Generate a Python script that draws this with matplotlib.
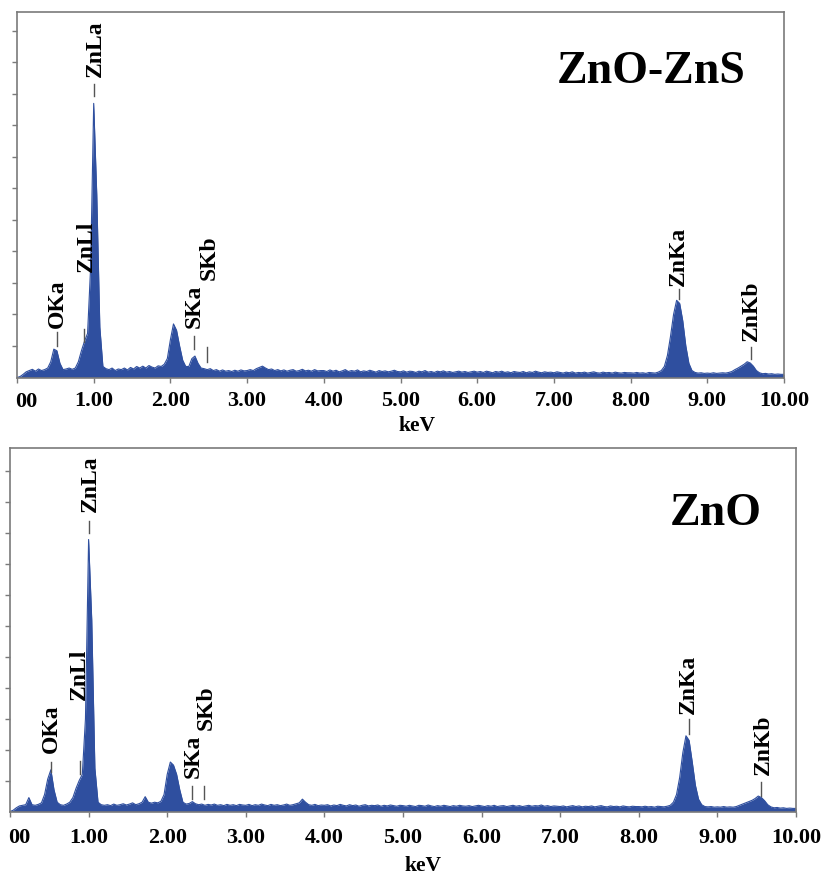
import numpy as np
import matplotlib
matplotlib.use("Agg")
import matplotlib.pyplot as plt

# ---------------- data ----------------
energy_step_kev = 0.04
energy_kev = np.round(np.arange(251) * energy_step_kev, 2)   # 0.00 ... 10.00 keV channels

# counts (arbitrary units, 1 unit = one y-tick) for ZnO-ZnS, one row per keV
zno_zns_counts = (
    [0.0, 0.03, 0.1, 0.18, 0.22, 0.26, 0.2, 0.27, 0.22, 0.25, 0.3, 0.5, 0.9, 0.85, 0.45, 0.25, 0.27, 0.3, 0.26, 0.3, 0.5, 0.85, 1.15, 1.4, 3.5]
    + [8.7, 5.8, 1.6, 0.35, 0.28, 0.25, 0.3, 0.22, 0.27, 0.25, 0.3, 0.24, 0.32, 0.27, 0.35, 0.3, 0.36, 0.3, 0.38, 0.33, 0.3, 0.37, 0.35, 0.42, 0.6]
    + [1.2, 1.7, 1.5, 1.0, 0.55, 0.35, 0.35, 0.6, 0.68, 0.45, 0.3, 0.28, 0.25, 0.28, 0.22, 0.25, 0.2, 0.24, 0.2, 0.22, 0.19, 0.23, 0.2, 0.24, 0.21]
    + [0.22, 0.25, 0.22, 0.28, 0.32, 0.36, 0.3, 0.25, 0.27, 0.22, 0.25, 0.21, 0.24, 0.2, 0.23, 0.25, 0.2, 0.22, 0.26, 0.21, 0.23, 0.2, 0.25, 0.21, 0.22]
    + [0.22, 0.19, 0.24, 0.2, 0.23, 0.18, 0.21, 0.25, 0.19, 0.22, 0.2, 0.24, 0.18, 0.21, 0.19, 0.23, 0.2, 0.17, 0.22, 0.19, 0.21, 0.18, 0.2, 0.23, 0.19]
    + [0.18, 0.21, 0.17, 0.2, 0.19, 0.16, 0.2, 0.18, 0.22, 0.17, 0.19, 0.16, 0.2, 0.18, 0.21, 0.17, 0.19, 0.16, 0.18, 0.2, 0.17, 0.19, 0.16, 0.18, 0.2]
    + [0.17, 0.19, 0.16, 0.2, 0.18, 0.15, 0.19, 0.17, 0.2, 0.16, 0.18, 0.15, 0.19, 0.17, 0.16, 0.19, 0.15, 0.18, 0.16, 0.2, 0.17, 0.15, 0.18, 0.16, 0.17]
    + [0.15, 0.18, 0.16, 0.14, 0.17, 0.15, 0.18, 0.14, 0.16, 0.15, 0.17, 0.14, 0.16, 0.18, 0.15, 0.14, 0.17, 0.15, 0.16, 0.14, 0.17, 0.15, 0.14, 0.16, 0.15]
    + [0.15, 0.14, 0.16, 0.14, 0.15, 0.13, 0.16, 0.15, 0.14, 0.17, 0.22, 0.35, 0.7, 1.3, 2.0, 2.45, 2.35, 1.8, 1.0, 0.45, 0.22, 0.16, 0.14, 0.15, 0.13]
    + [0.14, 0.13, 0.15, 0.13, 0.14, 0.15, 0.14, 0.16, 0.19, 0.25, 0.3, 0.36, 0.42, 0.5, 0.46, 0.36, 0.22, 0.15, 0.12, 0.13, 0.11, 0.12, 0.1, 0.11, 0.1]
    + [0.1]
)

zno_counts = (
    [0.0, 0.04, 0.12, 0.18, 0.2, 0.22, 0.45, 0.22, 0.2, 0.23, 0.28, 0.55, 1.05, 1.35, 0.7, 0.3, 0.22, 0.2, 0.24, 0.3, 0.45, 0.75, 1.0, 1.2, 3.0]
    + [8.8, 6.2, 1.4, 0.3, 0.22, 0.2, 0.22, 0.19, 0.24, 0.2, 0.22, 0.25, 0.21, 0.24, 0.28, 0.22, 0.25, 0.3, 0.48, 0.3, 0.27, 0.3, 0.28, 0.33, 0.55]
    + [1.2, 1.6, 1.5, 1.2, 0.7, 0.3, 0.24, 0.26, 0.32, 0.25, 0.22, 0.24, 0.2, 0.23, 0.21, 0.24, 0.2, 0.22, 0.19, 0.23, 0.2, 0.22, 0.19, 0.23, 0.21]
    + [0.2, 0.23, 0.19, 0.22, 0.2, 0.24, 0.21, 0.19, 0.23, 0.2, 0.22, 0.19, 0.21, 0.24, 0.2, 0.22, 0.25, 0.28, 0.4, 0.3, 0.22, 0.2, 0.23, 0.19, 0.21]
    + [0.2, 0.22, 0.18, 0.21, 0.19, 0.23, 0.2, 0.18, 0.22, 0.19, 0.21, 0.17, 0.2, 0.22, 0.18, 0.2, 0.19, 0.21, 0.17, 0.2, 0.18, 0.21, 0.19, 0.17, 0.2]
    + [0.19, 0.17, 0.2, 0.18, 0.16, 0.2, 0.19, 0.17, 0.21, 0.18, 0.16, 0.19, 0.17, 0.2, 0.18, 0.16, 0.19, 0.17, 0.2, 0.18, 0.17, 0.19, 0.16, 0.18, 0.2]
    + [0.18, 0.16, 0.19, 0.17, 0.2, 0.16, 0.18, 0.19, 0.16, 0.18, 0.2, 0.17, 0.19, 0.16, 0.18, 0.2, 0.17, 0.19, 0.18, 0.21, 0.17, 0.19, 0.16, 0.18, 0.17]
    + [0.16, 0.18, 0.15, 0.17, 0.19, 0.16, 0.18, 0.15, 0.17, 0.16, 0.18, 0.15, 0.17, 0.19, 0.16, 0.15, 0.18, 0.16, 0.17, 0.15, 0.18, 0.16, 0.15, 0.17, 0.16]
    + [0.16, 0.15, 0.17, 0.15, 0.16, 0.14, 0.17, 0.16, 0.15, 0.17, 0.2, 0.3, 0.55, 1.1, 1.9, 2.45, 2.3, 1.6, 0.85, 0.4, 0.22, 0.16, 0.15, 0.16, 0.14]
    + [0.15, 0.14, 0.16, 0.14, 0.15, 0.14, 0.16, 0.2, 0.24, 0.28, 0.32, 0.36, 0.42, 0.5, 0.45, 0.35, 0.22, 0.15, 0.12, 0.13, 0.11, 0.12, 0.1, 0.11, 0.1]
    + [0.1]
)

x_ticks = [0, 1, 2, 3, 4, 5, 6, 7, 8, 9, 10]
x_tick_labels = ["00", "1.00", "2.00", "3.00", "4.00", "5.00", "6.00", "7.00", "8.00", "9.00", "10.00"]
y_ticks = [1, 2, 3, 4, 5, 6, 7, 8, 9, 10, 11]

peak_names = ["OKa", "ZnLl", "ZnLa", "SKa", "SKb", "ZnKa", "ZnKb"]
peak_kev_top = [0.52, 0.87, 1.00, 2.31, 2.48, 8.63, 9.57]
peak_kev_bottom = [0.52, 0.89, 1.005, 2.32, 2.47, 8.64, 9.56]

# ---------------- layout ----------------
# marker segment (lo, hi) and text (x, bottom y) in data units
top_marker_span = [(1.0, 1.44), (1.13, 1.54), (8.94, 9.32), (0.9, 1.32), (0.49, 0.97), (2.5, 2.82), (0.59, 0.97)]
top_text_pos = [(0.53, 1.6), (0.91, 3.38), (1.02, 9.57), (2.31, 1.6), (2.50, 3.13), (8.62, 2.92), (9.58, 1.19)]
bot_marker_span = [(1.29, 1.61), (1.22, 1.64), (9.0, 9.41), (0.41, 0.83), (0.41, 0.83), (2.5, 3.0), (0.51, 0.96)]
bot_text_pos = [(0.53, 1.94), (0.88, 3.65), (1.02, 9.73), (2.33, 1.12), (2.50, 2.68), (8.63, 3.19), (9.58, 1.22)]

W, H = 826, 878
BLUE = "#2f4f9f"
GRAY = "#7a7a7a"
SERIF = ["Liberation Serif", "DejaVu Serif"]

fig = plt.figure(figsize=(W / 100, H / 100), dpi=100)
ax_top = fig.add_axes([17 / W, 1 - 378.5 / H, 767 / W, 365.5 / H])
ax_bot = fig.add_axes([10 / W, 1 - 812.5 / H, 786 / W, 363.5 / H])


def draw(ax, counts, ymax, kev, spans, texts, pad):
    ax.fill_between(energy_kev, counts, color=BLUE, lw=0)
    ax.plot(energy_kev, counts, color=BLUE, lw=0.8)
    ax.set_xlim(0, 10)
    ax.set_ylim(0, ymax)
    ax.set_xticks(x_ticks)
    ax.set_xticklabels([""] + x_tick_labels[1:], fontsize=16, fontweight="bold", family=SERIF)
    ax.annotate(x_tick_labels[0], xy=(0, 0), xycoords=("data", "axes fraction"),
                xytext=(7, -4 - pad), textcoords="offset points", ha="center", va="top",
                fontsize=16, fontweight="bold", family=SERIF)
    ax.set_yticks(y_ticks)
    ax.set_yticklabels([])
    ax.tick_params(direction="out", length=3.5, width=1.0, color=GRAY, pad=pad)
    for sp in ax.spines.values():
        sp.set_color(GRAY)
        sp.set_linewidth(1.2)
    for name, e, (lo, hi), (tx, ty) in zip(peak_names, kev, spans, texts):
        ax.plot([e, e], [lo, hi], color="#555555", lw=1.0)
        ax.text(tx, ty, name, rotation=90, ha="center", va="bottom",
                fontsize=17, fontweight="bold", family=SERIF)


draw(ax_top, zno_zns_counts, 11.6, peak_kev_top, top_marker_span, top_text_pos, 5.5)
draw(ax_bot, zno_counts, 11.76, peak_kev_bottom, bot_marker_span, bot_text_pos, 7.5)

fig.text(651 / W, 1 - 72 / H, "ZnO-ZnS", ha="center", va="center", fontsize=33,
         fontweight="bold", family=SERIF)
fig.text(716 / W, 1 - 514 / H, "ZnO", ha="center", va="center", fontsize=33,
         fontweight="bold", family=SERIF)
fig.text(417 / W, 1 - 426 / H, "keV", ha="center", va="center", fontsize=15.5,
         fontweight="bold", family=SERIF)
fig.text(423 / W, 1 - 866 / H, "keV", ha="center", va="center", fontsize=15.5,
         fontweight="bold", family=SERIF)

fig.savefig("out.png", dpi=100, facecolor="white")
